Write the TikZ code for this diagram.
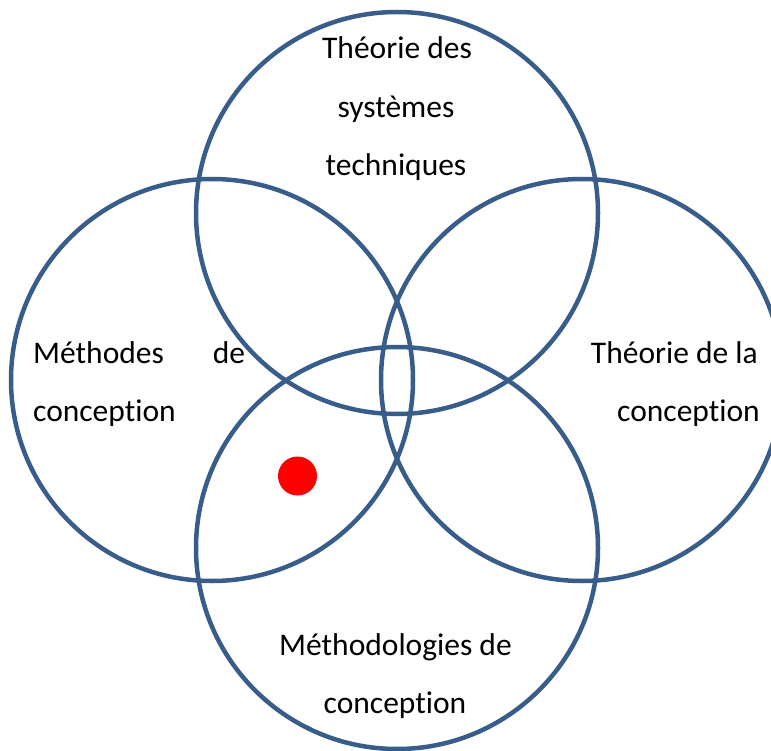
\documentclass[tikz,border=0pt]{standalone}
\usepackage{fontspec}
\setmainfont{Carlito}[Ligatures={NoCommon}]
\definecolor{ringblue}{HTML}{385D8A}
\begin{document}
\begin{tikzpicture}[x=1pt,y=-1pt,
  ring/.style={circle,draw=ringblue,line width=4.5pt,minimum size=402pt,inner sep=0pt},
  lbl/.style={inner sep=0pt,font=\fontsize{31.5}{38}\selectfont},
  dot/.style={circle,fill=red,minimum size=39pt,inner sep=0pt}]
\useasboundingbox (0,0) rectangle (771,751);
\node[ring] (top) at (397,213) {};
\node[ring] (left) at (212,380) {};
\node[ring] (right) at (582,380) {};
\node[ring] (bottom) at (397,548) {};
\node[dot] (point) at (297.5,476) {};
% top labels
\node[lbl,anchor=base] (t1) at (397,59) {Théorie des};
\node[lbl,anchor=base] (t2) at (396,117.5) {systèmes};
\node[lbl,anchor=base] (t3) at (396,176) {techniques};
% left labels
\node[lbl,anchor=base west] (l1) at (33,363) {\makebox[212pt][s]{Méthodes\hfill de}};
\node[lbl,anchor=base west] (l2) at (33,421.5) {conception};
% right labels
\node[lbl,anchor=base east] (r1) at (758,363) {Théorie de la};
\node[lbl,anchor=base east] (r2) at (760,421.5) {conception};
% bottom labels
\node[lbl,anchor=base] (b1) at (395.5,655) {Méthodologies de};
\node[lbl,anchor=base] (b2) at (395,713.5) {conception};
\end{tikzpicture}
\end{document}
